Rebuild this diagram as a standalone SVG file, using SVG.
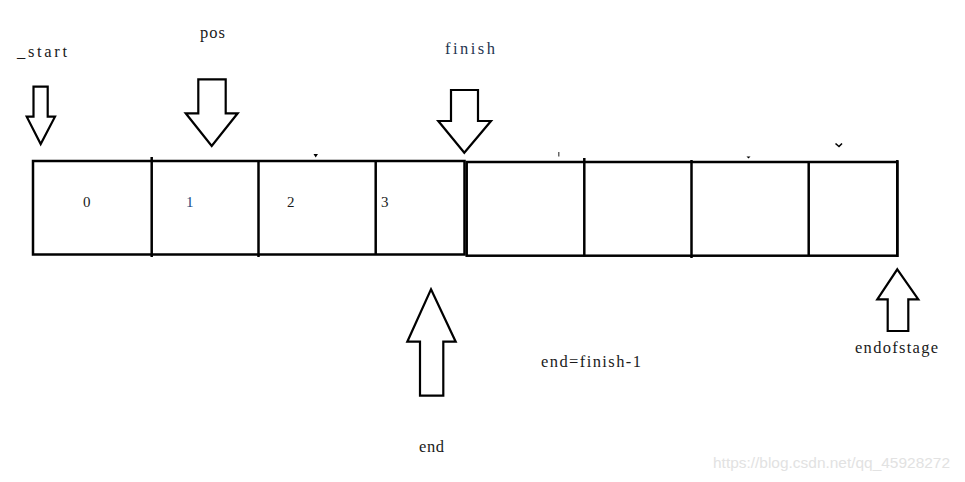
<svg xmlns="http://www.w3.org/2000/svg" width="965" height="482" viewBox="0 0 965 482">
<style>
.box{fill:none;stroke:#000;stroke-width:2.5}
.div{stroke:#000;stroke-width:2.5}
.arr{fill:#fff;stroke:#000;stroke-width:2.2;stroke-linejoin:miter}
.t{font-family:"Liberation Serif","DejaVu Serif",serif;font-size:16.5px;fill:#1a1a1a}
.d{font-family:"Liberation Serif","DejaVu Serif",serif;font-size:15px;fill:#1a1a1a}
.wm{font-family:"Liberation Sans",Arial,sans-serif;font-size:15px;fill:#e2e2e2}
</style>
<rect width="965" height="482" fill="#fff"/>
<g id="array">
<rect class="box" x="33" y="161" width="431.5" height="93.5"/>
<rect class="box" x="466.7" y="162" width="430.6" height="93.7"/>
<line class="div" x1="151.7" y1="157" x2="151.7" y2="257"/>
<line class="div" x1="258.5" y1="160" x2="258.5" y2="257"/>
<line class="div" x1="375.7" y1="161" x2="375.7" y2="255"/>
<line class="div" x1="584.3" y1="158" x2="584.3" y2="256.5"/>
<line class="div" x1="691.5" y1="160" x2="691.5" y2="258"/>
<line class="div" x1="808.7" y1="162" x2="808.7" y2="255"/>
<line class="div" x1="897.3" y1="160" x2="897.3" y2="257"/>
<text class="d" x="83" y="207">0</text>
<text class="d" x="186" y="207" style="fill:#1c4a80">1</text>
<text class="d" x="287" y="207">2</text>
<text class="d" x="381" y="207">3</text>
</g>
<g id="marks">
<path d="M313.5,154 L318,154 L315.7,157.5 Z" fill="#000"/>
<rect x="558" y="152" width="1.5" height="4.5" fill="#666"/>
<path d="M746.5,156.5 L750.5,156.5 L748.5,158.5 Z" fill="#000"/>
<path d="M835.5,143.5 L839,146.5 L842,143.5" fill="none" stroke="#000" stroke-width="1.6"/>
</g>
<g id="start">
<text class="t" x="17" y="57" textLength="50" lengthAdjust="spacing">_start</text>
<polygon class="arr" points="33.5,86.7 47.7,86.7 47.7,116.7 55,116.7 40.7,144 26.7,116.7 33.5,116.7"/>
</g>
<g id="pos">
<text class="t" x="200" y="38" textLength="25" lengthAdjust="spacing">pos</text>
<polygon class="arr" points="198.3,79.3 225.7,79.3 225.7,113.3 237.7,113.3 211.7,146 185.7,113.3 198.3,113.3"/>
</g>
<g id="finish">
<text class="t" x="445" y="54" textLength="50" lengthAdjust="spacing" style="fill:#1f3550">finish</text>
<polygon class="arr" points="451,90 478,90 478,121 491,121 464.3,152.7 438.3,121 451,121"/>
</g>
<g id="end">
<polygon class="arr" points="431,289.3 455.7,341.7 443.3,341.7 443.3,395.7 420,395.7 420,341.7 407.3,341.7"/>
<text class="t" x="419" y="452" textLength="25" lengthAdjust="spacing">end</text>
</g>
<g id="endofstage">
<polygon class="arr" points="897.3,269.3 918.3,299.3 908.3,299.3 908.3,331 887.7,331 887.7,299.3 877.3,299.3"/>
<text class="t" x="855" y="353" textLength="83" lengthAdjust="spacing">endofstage</text>
</g>
<g id="note">
<text class="t" x="541" y="367" textLength="100" lengthAdjust="spacing">end=finish-1</text>
</g>
<text class="wm" x="713" y="468" textLength="237" lengthAdjust="spacingAndGlyphs">https://blog.csdn.net/qq_45928272</text>
</svg>
